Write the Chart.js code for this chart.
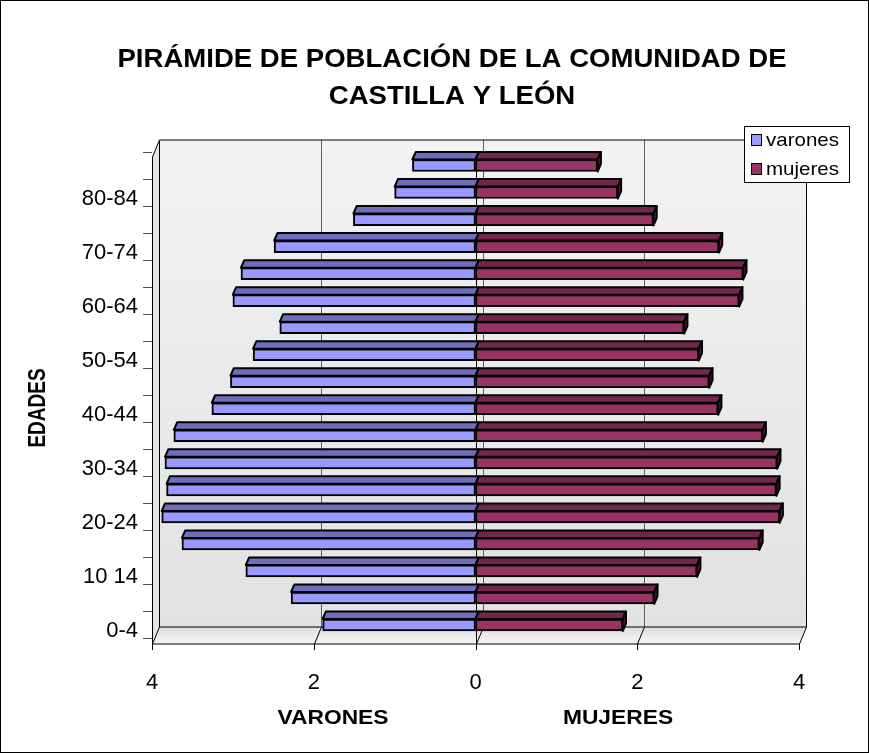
<!DOCTYPE html>
<html>
<head>
<meta charset="utf-8">
<title>Pirámide de población de Castilla y León</title>
<script src="https://cdn.jsdelivr.net/npm/chart.js@4.4.1/dist/chart.umd.min.js"></script>
<style>
  html, body { margin: 0; padding: 0; background: #fff; }
  canvas { display: block; }
</style>
</head>
<body>
<canvas id="pyramid-chart" width="869" height="753"></canvas>
<script>
// age groups, youngest first (drawn at the bottom)
const edades = ['0-4', '5-9', '10 14', '15-19', '20-24', '25-29', '30-34', '35-39', '40-44',
                '45-49', '50-54', '55-59', '60-64', '65-69', '70-74', '75-79', '80-84', '85+'];
const varones = [1.89, 2.28, 2.84, 3.63, 3.88, 3.82, 3.84, 3.73, 3.26,
                 3.03, 2.75, 2.42, 3.00, 2.90, 2.49, 1.51, 1.00, 0.78];
const mujeres = [1.82, 2.21, 2.74, 3.51, 3.76, 3.72, 3.73, 3.55, 3.00,
                 2.89, 2.76, 2.58, 3.26, 3.31, 3.01, 2.20, 1.76, 1.51];
const xTickValues = [-4, -2, 0, 2, 4];

const FONT = "'Liberation Sans', Arial, sans-serif";
Chart.defaults.font.family = FONT;
Chart.defaults.color = '#000';

// offsets used for the fake 3D look
const wallDepth = { dx: 7, dy: 17 };
const barDepth = { dx: 3.3, dy: 7.5 };

function line(ctx, x1, y1, x2, y2) {
    ctx.beginPath();
    ctx.moveTo(x1, y1);
    ctx.lineTo(x2, y2);
    ctx.stroke();
}

function poly(ctx, pts) {
    ctx.beginPath();
    ctx.moveTo(pts[0][0], pts[0][1]);
    for (let i = 1; i < pts.length; i++) ctx.lineTo(pts[i][0], pts[i][1]);
    ctx.closePath();
}

// stretched text, the original picture is a bit wider than tall
function text(ctx, str, x, y, font, sx) {
    ctx.save();
    ctx.translate(x, y);
    ctx.scale(sx, 1);
    ctx.font = font;
    ctx.textAlign = 'center';
    ctx.textBaseline = 'middle';
    ctx.fillText(str, 0, 0);
    ctx.restore();
}

const pyramid3d = {
    id: 'pyramid3d',
    beforeDraw(chart) {
        const { ctx, chartArea: ca, scales } = chart;
        const xs = scales.x;
        const dx = wallDepth.dx, dy = wallDepth.dy;
        const frontTop = ca.top + 5;
        const floorY = ca.bottom + 5.5;
        const backTop = frontTop - dy;
        const backBottom = floorY - dy;
        ctx.save();

        // back wall
        let g = ctx.createLinearGradient(0, backTop, 0, backBottom);
        g.addColorStop(0, '#f3f3f3');
        g.addColorStop(1, '#e2e2e2');
        ctx.fillStyle = g;
        ctx.fillRect(ca.left + dx, backTop, ca.right - ca.left, backBottom - backTop);

        // left wall
        ctx.fillStyle = '#e4e4e4';
        poly(ctx, [[ca.left, frontTop], [ca.left + dx, backTop], [ca.left + dx, backBottom], [ca.left, floorY]]);
        ctx.fill();

        // floor
        g = ctx.createLinearGradient(0, backBottom, 0, floorY);
        g.addColorStop(0, '#dedede');
        g.addColorStop(1, '#f6f6f6');
        ctx.fillStyle = g;
        poly(ctx, [[ca.left, floorY], [ca.left + dx, backBottom], [ca.right + dx, backBottom], [ca.right, floorY]]);
        ctx.fill();

        // grid lines on the wall and the floor
        ctx.lineWidth = 1;
        xs.ticks.forEach(t => {
            const px = Math.round(xs.getPixelForValue(t.value)) + 0.5;
            if (t.value > xs.min && t.value < xs.max) {
                ctx.strokeStyle = '#5f5f5f';
                line(ctx, px + dx, backTop, px + dx, backBottom);
            }
            ctx.strokeStyle = '#000';
            line(ctx, px, floorY, px + dx, backBottom);
            line(ctx, px, floorY, px, floorY + 6);
        });

        // frame
        ctx.strokeStyle = '#000';
        const L = Math.round(ca.left) + 0.5, R = Math.round(ca.right) + 0.5;
        line(ctx, L, frontTop, L, floorY);
        line(ctx, L, frontTop, L + dx, backTop);
        line(ctx, L + dx, backTop, R + dx, backTop);
        line(ctx, L + dx, backTop, L + dx, backBottom);
        line(ctx, R + dx, backTop, R + dx, backBottom);
        line(ctx, L + dx, backBottom, R + dx, backBottom);
        line(ctx, L, floorY, R, floorY);

        // zero line in front
        const zx = Math.round(xs.getPixelForValue(0)) + 0.5;
        line(ctx, zx, frontTop, zx, floorY);
        ctx.restore();
    },
    afterDatasetsDraw(chart) {
        const ctx = chart.ctx;
        ctx.save();
        ctx.lineWidth = 2;
        ctx.strokeStyle = '#000';
        ctx.lineJoin = 'round';
        chart.data.datasets.forEach((ds, i) => {
            chart.getDatasetMeta(i).data.forEach(bar => {
                const p = bar.getProps(['x', 'y', 'base', 'height'], true);
                const l = Math.min(p.x, p.base), r = Math.max(p.x, p.base);
                const t = p.y - p.height / 2, b = p.y + p.height / 2;
                poly(ctx, [[l, t], [l + barDepth.dx, t - barDepth.dy], [r + barDepth.dx, t - barDepth.dy], [r, t]]);
                ctx.fillStyle = ds.topColor;
                ctx.fill();
                ctx.stroke();
                if (p.x > p.base) {
                    poly(ctx, [[r, t], [r + barDepth.dx, t - barDepth.dy], [r + barDepth.dx, b - barDepth.dy], [r, b]]);
                    ctx.fillStyle = ds.sideColor;
                    ctx.fill();
                    ctx.stroke();
                }
            });
        });
        ctx.restore();
    },
    afterDraw(chart) {
        const ctx = chart.ctx;
        ctx.save();
        ctx.fillStyle = '#000';

        // title
        text(ctx, 'PIRÁMIDE DE POBLACIÓN DE LA COMUNIDAD DE', 452, 60, 'bold 26px ' + FONT, 1.06);
        text(ctx, 'CASTILLA Y LEÓN', 452, 97, 'bold 26px ' + FONT, 1.06);

        // axis titles
        text(ctx, 'VARONES', 333, 718, 'bold 20px ' + FONT, 1.14);
        text(ctx, 'MUJERES', 618, 718, 'bold 20px ' + FONT, 1.14);
        ctx.save();
        ctx.translate(39, 408);
        ctx.rotate(-Math.PI / 2);
        ctx.font = 'bold 20px ' + FONT;
        ctx.textAlign = 'center';
        ctx.textBaseline = 'middle';
        ctx.scale(0.95, 1.15);
        ctx.fillText('EDADES', 0, 0);
        ctx.restore();

        // legend
        const lg = { x: 744.5, y: 126.5, w: 105, h: 56 };
        ctx.fillStyle = '#fff';
        ctx.fillRect(lg.x, lg.y, lg.w, lg.h);
        ctx.strokeStyle = '#000';
        ctx.lineWidth = 1;
        ctx.strokeRect(lg.x, lg.y, lg.w, lg.h);
        chart.data.datasets.forEach((ds, i) => {
            const cy = 140 + i * 29;
            ctx.fillStyle = ds.backgroundColor;
            ctx.fillRect(751.5, cy - 5.5, 10, 11);
            ctx.strokeRect(751.5, cy - 5.5, 10, 11);
            ctx.fillStyle = '#000';
            ctx.save();
            ctx.translate(766, cy);
            ctx.scale(1.08, 1);
            ctx.font = '19px ' + FONT;
            ctx.textBaseline = 'middle';
            ctx.fillText(ds.label, 0, 1);
            ctx.restore();
        });

        // outer border
        ctx.strokeRect(0.5, 0.5, chart.width - 1, chart.height - 1);
        ctx.restore();
    }
};

const ctx = document.getElementById('pyramid-chart').getContext('2d');
new Chart(ctx, {
    type: 'bar',
    data: {
        labels: edades,
        datasets: [
            {
                label: 'varones',
                data: varones.map(v => -v),
                backgroundColor: '#9999ff',
                topColor: '#6e6ebd',
                sideColor: '#5a5aa0',
                borderColor: '#000',
                borderWidth: 2,
                borderSkipped: false,
                barThickness: 12
            },
            {
                label: 'mujeres',
                data: mujeres,
                backgroundColor: '#993366',
                topColor: '#73264d',
                sideColor: '#55193a',
                borderColor: '#000',
                borderWidth: 2,
                borderSkipped: false,
                barThickness: 12
            }
        ]
    },
    options: {
        indexAxis: 'y',
        responsive: false,
        animation: false,
        devicePixelRatio: 1,
        layout: {
            padding: { top: 152, right: 70, bottom: 0, left: 0 }
        },
        plugins: {
            legend: { display: false },
            title: { display: false },
            tooltip: { enabled: false }
        },
        scales: {
            x: {
                stacked: true,
                min: -4,
                max: 4,
                afterBuildTicks: axis => {
                    axis.ticks = xTickValues.map(v => ({ value: v }));
                },
                afterFit: axis => {
                    axis.height = 114.5;
                },
                grid: { display: false },
                border: { display: false },
                ticks: {
                    padding: 23,
                    font: { size: 22 },
                    callback: v => Math.abs(v)
                }
            },
            y: {
                stacked: true,
                reverse: true,
                afterFit: axis => {
                    axis.width = 152;
                },
                grid: {
                    offset: true,
                    drawOnChartArea: false,
                    tickLength: 9,
                    color: '#555'
                },
                border: { display: false },
                ticks: {
                    autoSkip: false,
                    padding: 5,
                    labelOffset: 6,
                    font: { size: 22 },
                    callback: function(value, index) {
                        return index % 2 === 0 ? this.getLabelForValue(value) : '';
                    }
                }
            }
        }
    },
    plugins: [pyramid3d]
});
</script>
</body>
</html>
